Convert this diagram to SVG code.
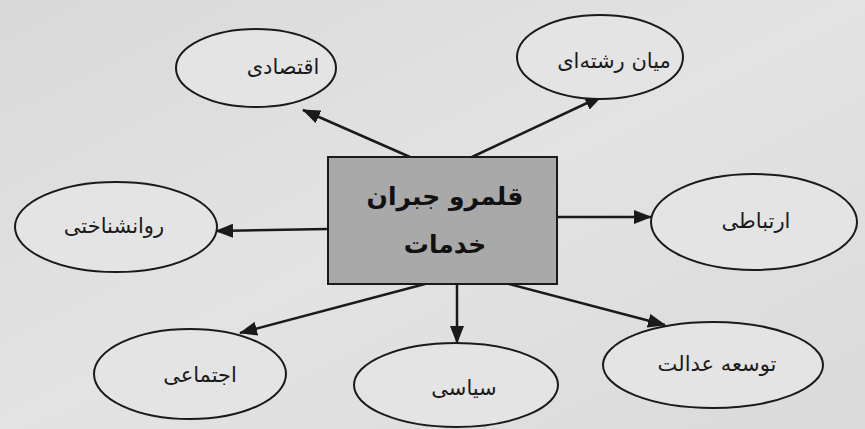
<svg xmlns="http://www.w3.org/2000/svg" width="865" height="429" viewBox="0 0 865 429">
<defs>
<linearGradient id="bg" x1="0" y1="0" x2="1" y2="1">
<stop offset="0" stop-color="#d9d9d9"/>
<stop offset="0.5" stop-color="#e3e3e3"/>
<stop offset="1" stop-color="#dadada"/>
</linearGradient>
<marker id="ah" viewBox="0 0 18 14" refX="17" refY="7" markerWidth="18" markerHeight="14" markerUnits="userSpaceOnUse" orient="auto">
<path d="M0,0 L18,7 L0,14 Z" fill="#1a1a1a"/>
</marker>
</defs>
<style>
.el{fill:#e4e4e4;stroke:#1a1a1a;stroke-width:2}
.lb{font-family:"DejaVu Sans",sans-serif;font-size:21px;fill:#1a1a1a;text-anchor:middle;dominant-baseline:middle}
.ct{font-family:"DejaVu Sans",sans-serif;font-size:25px;font-weight:bold;fill:#111;text-anchor:middle;dominant-baseline:middle}
.cn{stroke:#1a1a1a;stroke-width:2.5;fill:none;marker-end:url(#ah)}
</style>
<rect width="865" height="429" fill="url(#bg)"/>
<g id="connectors">
<line class="cn" x1="410" y1="157" x2="303" y2="110"/>
<line class="cn" x1="472" y1="157" x2="602" y2="96"/>
<line class="cn" x1="557" y1="217" x2="651" y2="217"/>
<line class="cn" x1="328" y1="229" x2="216" y2="231"/>
<line class="cn" x1="425" y1="284" x2="240" y2="333"/>
<line class="cn" x1="457" y1="284" x2="457" y2="343"/>
<line class="cn" x1="505" y1="283" x2="665" y2="325"/>
</g>
<g id="center">
<rect x="328" y="157" width="229" height="127" fill="#a9a9a9" stroke="#1a1a1a" stroke-width="2"/>
<text class="ct" x="445" y="198" direction="rtl">قلمرو جبران</text>
<text class="ct" x="445" y="246" direction="rtl">خدمات</text>
</g>
<g id="n-eqtesadi">
<ellipse class="el" cx="256" cy="68" rx="80" ry="39"/>
<text class="lb" x="283" y="68" direction="rtl">اقتصادی</text>
</g>
<g id="n-mian">
<ellipse class="el" cx="600" cy="57" rx="83" ry="42"/>
<text class="lb" x="614" y="62" direction="rtl">میان رشته‌ای</text>
</g>
<g id="n-ertebati">
<ellipse class="el" cx="754" cy="222" rx="103" ry="48"/>
<text class="lb" x="756" y="222" direction="rtl">ارتباطی</text>
</g>
<g id="n-ravan">
<ellipse class="el" cx="116" cy="227" rx="101" ry="45"/>
<text class="lb" x="114" y="227" direction="rtl">روانشناختی</text>
</g>
<g id="n-ejtemai">
<ellipse class="el" cx="190" cy="374" rx="96" ry="45"/>
<text class="lb" x="200" y="376" direction="rtl">اجتماعی</text>
</g>
<g id="n-siasi">
<ellipse class="el" cx="456" cy="385" rx="102" ry="42"/>
<text class="lb" x="464" y="389" direction="rtl">سیاسی</text>
</g>
<g id="n-tose">
<ellipse class="el" cx="713" cy="365" rx="110" ry="43"/>
<text class="lb" x="717" y="365" direction="rtl">توسعه عدالت</text>
</g>
</svg>
